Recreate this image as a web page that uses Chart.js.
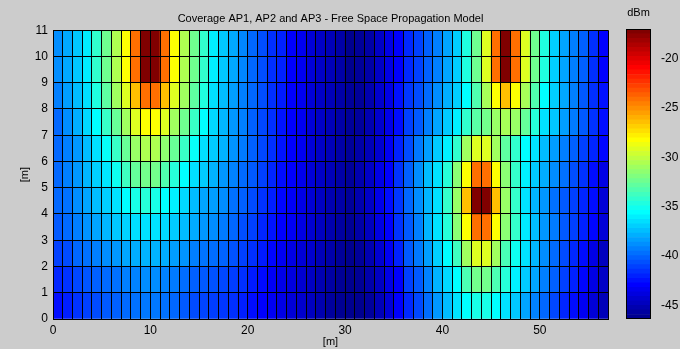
<!DOCTYPE html>
<html>
<head>
<meta charset="utf-8">
<title>Coverage AP1, AP2 and AP3</title>
<script src="https://cdn.jsdelivr.net/npm/chart.js@4.4.1/dist/chart.umd.min.js"></script>
<style>
  html, body { margin: 0; padding: 0; background: #cccccc; }
  #wrap { position: relative; width: 680px; height: 349px; }
  #wrap canvas { position: absolute; top: 0; }
  #coverage { left: 0; }
  #cbar { left: 600px; }
</style>
</head>
<body>
<div id="wrap">
  <canvas id="coverage" width="680" height="349"></canvas>
  <canvas id="cbar" width="80" height="349"></canvas>
</div>
<script>
// received power in dBm, one array per 1 m strip along y (row 0 = 0..1 m)
const dbmRow0 = [-42.6,-42.1,-41.5,-41.1,-40.8,-40.4,-40.2,-39.9,-39.7,-39.5,
  -39.5,-39.7,-40.0,-40.4,-40.8,-41.0,-41.2,-41.4,-41.6,-42.1,
  -42.6,-43.0,-43.3,-43.7,-44.1,-44.4,-44.8,-45.3,-45.8,-46.1,
  -46.4,-46.2,-45.8,-45.0,-44.1,-43.0,-41.8,-40.9,-39.8,-38.6,
  -37.5,-36.4,-35.6,-34.9,-34.9,-35.6,-36.4,-37.2,-38.2,-39.2,
  -40.0,-40.9,-41.9,-42.6,-43.3,-44.1,-45.0];
const dbmRow1 = [-41.9,-41.5,-40.9,-40.5,-40.2,-39.9,-39.7,-39.3,-39.2,-38.9,
  -38.9,-39.2,-39.4,-39.8,-40.2,-40.4,-40.6,-40.9,-41.2,-41.6,
  -42.2,-42.7,-43.2,-43.6,-43.9,-44.3,-44.7,-45.2,-45.6,-46.0,
  -46.3,-46.0,-45.4,-44.7,-43.7,-43.0,-41.1,-40.4,-39.2,-37.8,
  -36.7,-35.6,-33.4,-32.3,-32.3,-33.4,-34.5,-36.0,-37.1,-38.2,
  -39.3,-40.2,-41.1,-42.0,-42.8,-43.7,-44.6];
const dbmRow2 = [-41.1,-40.8,-40.0,-39.7,-39.3,-38.9,-38.6,-38.2,-38.0,-37.8,
  -37.8,-38.0,-38.4,-38.7,-39.3,-39.6,-39.8,-40.1,-40.6,-41.1,
  -41.6,-42.2,-42.8,-43.3,-43.7,-44.1,-44.4,-45.0,-45.4,-45.9,
  -46.2,-45.9,-45.2,-44.3,-43.3,-42.0,-40.4,-39.5,-38.4,-37.0,
  -35.6,-33.8,-31.0,-29.2,-29.2,-31.0,-33.5,-35.2,-36.4,-37.7,
  -38.9,-39.9,-40.8,-41.8,-42.6,-43.7,-44.8];
const dbmRow3 = [-40.4,-39.9,-39.3,-38.7,-38.2,-37.7,-37.2,-36.9,-36.5,-36.4,
  -36.4,-36.7,-37.1,-37.5,-38.0,-38.6,-38.9,-39.4,-40.0,-40.7,
  -41.1,-41.9,-42.4,-43.0,-43.3,-43.8,-44.3,-44.8,-45.3,-45.7,
  -46.0,-45.5,-44.8,-43.8,-43.0,-41.5,-40.4,-39.3,-37.7,-36.4,
  -34.5,-31.6,-28.3,-24.1,-24.1,-28.3,-31.6,-34.1,-36.2,-37.5,
  -38.6,-39.4,-40.4,-41.1,-42.0,-42.8,-44.1];
const dbmRow4 = [-40.0,-39.7,-38.9,-38.2,-37.5,-37.0,-36.4,-35.6,-34.9,-34.5,
  -34.9,-35.6,-36.0,-36.7,-37.5,-38.2,-38.4,-38.9,-39.7,-40.2,
  -40.8,-41.5,-42.1,-42.8,-43.2,-43.7,-44.2,-44.7,-45.2,-45.5,
  -45.9,-45.3,-44.6,-43.6,-42.6,-41.4,-40.0,-38.9,-37.7,-36.5,
  -34.1,-31.2,-26.4,-17.0,-17.0,-26.4,-31.2,-34.1,-36.4,-37.7,
  -38.6,-39.7,-40.4,-41.1,-41.9,-42.6,-44.1];
const dbmRow5 = [-40.0,-39.3,-38.6,-37.7,-37.0,-36.3,-35.2,-33.8,-32.7,-32.3,
  -32.3,-33.3,-34.5,-35.6,-36.5,-37.1,-37.8,-38.6,-39.2,-39.9,
  -40.4,-41.1,-41.9,-42.6,-43.0,-43.5,-44.1,-44.6,-45.0,-45.5,
  -45.9,-45.3,-44.6,-43.7,-43.0,-41.5,-40.2,-38.9,-37.5,-36.4,
  -34.5,-31.6,-28.3,-24.1,-24.1,-28.3,-31.6,-34.1,-36.0,-37.1,
  -38.0,-38.9,-39.7,-40.7,-41.5,-42.6,-43.7];
const dbmRow6 = [-40.0,-39.3,-38.6,-37.5,-36.5,-35.4,-34.0,-32.6,-31.2,-30.6,
  -30.6,-31.5,-32.6,-34.0,-35.4,-36.5,-37.1,-37.8,-38.7,-39.4,
  -40.2,-40.9,-41.6,-42.4,-43.0,-43.4,-44.1,-44.6,-45.0,-45.5,
  -45.9,-45.5,-45.0,-44.3,-43.3,-42.0,-40.8,-39.5,-38.4,-37.1,
  -36.0,-34.2,-31.0,-29.2,-29.2,-31.0,-32.9,-34.2,-35.6,-36.4,
  -37.5,-38.4,-39.3,-40.2,-41.1,-41.9,-42.8];
const dbmRow7 = [-40.0,-38.9,-37.9,-36.7,-35.6,-34.0,-32.6,-31.0,-29.2,-28.3,
  -28.3,-29.2,-31.0,-32.4,-34.0,-35.6,-36.7,-37.7,-38.6,-39.3,
  -40.2,-40.9,-41.6,-42.4,-43.0,-43.4,-44.1,-44.6,-45.0,-45.5,
  -45.9,-45.8,-45.2,-44.4,-43.6,-42.6,-41.1,-40.4,-39.3,-38.2,
  -37.1,-36.0,-34.2,-33.0,-32.3,-31.2,-30.8,-31.2,-32.7,-34.5,
  -36.4,-37.2,-38.4,-39.4,-40.4,-41.5,-42.6];
const dbmRow8 = [-39.3,-38.4,-37.5,-36.5,-34.7,-32.9,-31.0,-29.2,-26.4,-24.1,
  -24.1,-26.4,-29.2,-31.0,-32.9,-34.7,-36.5,-37.5,-38.4,-39.3,
  -40.0,-40.7,-41.6,-42.2,-43.0,-43.4,-44.1,-44.6,-45.0,-45.5,
  -45.9,-45.9,-45.3,-44.4,-43.7,-42.5,-41.4,-40.8,-39.9,-38.9,
  -37.9,-37.0,-35.6,-33.3,-30.8,-28.3,-26.4,-28.3,-30.8,-33.3,
  -35.6,-37.0,-38.1,-39.3,-40.4,-41.6,-42.5];
const dbmRow9 = [-38.9,-38.1,-37.2,-36.1,-34.2,-32.4,-30.6,-28.3,-24.1,-17.0,
  -17.0,-24.1,-28.3,-30.6,-32.4,-34.2,-36.1,-37.2,-38.1,-39.1,
  -40.0,-40.7,-41.6,-42.0,-43.0,-43.4,-44.1,-44.6,-45.0,-45.5,
  -46.2,-45.9,-45.5,-44.6,-43.7,-43.0,-41.8,-41.1,-40.2,-39.3,
  -38.2,-37.0,-34.7,-32.4,-29.2,-24.1,-17.0,-24.1,-29.2,-32.4,
  -34.7,-37.0,-38.2,-39.3,-40.2,-41.6,-43.0];
const dbmRow10 = [-38.9,-38.1,-37.2,-36.1,-34.2,-32.4,-30.6,-28.3,-24.1,-17.0,
  -17.0,-24.1,-28.3,-30.6,-32.4,-34.2,-36.1,-37.2,-38.1,-39.1,
  -40.0,-40.7,-41.6,-42.0,-43.0,-43.4,-44.1,-44.6,-45.0,-45.5,
  -46.2,-45.9,-45.5,-44.6,-43.7,-43.0,-41.8,-41.1,-40.2,-39.3,
  -38.2,-37.0,-34.7,-32.4,-29.2,-24.1,-17.0,-24.1,-29.2,-32.4,
  -34.7,-37.0,-38.2,-39.3,-40.2,-41.6,-43.0];

const xTickLabels = [0, 10, 20, 30, 40, 50];
const cbarTicks = [-45, -40, -35, -30, -25, -20];

const rowsDbm = [dbmRow0, dbmRow1, dbmRow2, dbmRow3, dbmRow4, dbmRow5,
  dbmRow6, dbmRow7, dbmRow8, dbmRow9, dbmRow10];

const CMIN = -46.4, CMAX = -17;
const WIDTH_M = 57, HEIGHT_M = 11;

// MATLAB style jet colormap
function jet(v) {
  let k = (v - CMIN) / (CMAX - CMIN) * 64 + 0.5;
  k = Math.min(64, Math.max(1, k));
  const clamp = t => Math.min(1, Math.max(0, t));
  const r = clamp(Math.min((k - 24) / 16, (72 - k) / 16));
  const g = clamp(Math.min((k - 8) / 16, (56 - k) / 16));
  const b = clamp(Math.min((k + 8) / 16, (40 - k) / 16));
  return `rgb(${Math.round(r * 255)},${Math.round(g * 255)},${Math.round(b * 255)})`;
}

Chart.defaults.font.family = '"Liberation Sans", Arial, sans-serif';
Chart.defaults.font.size = 11;
Chart.defaults.color = '#000';
Chart.defaults.animation = false;

// one floating bar per 1x1 m cell
const cells = [];
rowsDbm.forEach((row, r) => {
  row.forEach((v, c) => cells.push({ x: c + 0.5, y: [r, r + 1], v: v }));
});

new Chart(document.getElementById('coverage'), {
  type: 'bar',
  data: {
    datasets: [{
      data: cells,
      backgroundColor: cells.map(p => jet(p.v)),
      borderWidth: 0,
      barPercentage: 1,
      categoryPercentage: 1
    }]
  },
  options: {
    responsive: false,
    devicePixelRatio: 1,
    layout: { padding: { left: 0, right: 72, top: 0, bottom: 0 } },
    plugins: {
      legend: { display: false },
      tooltip: { enabled: false },
      title: {
        display: true,
        fullSize: false,
        text: 'Coverage AP1, AP2 and AP3 - Free Space Propagation Model',
        font: { size: 11, weight: 'normal' },
        color: '#000',
        padding: { top: 12, bottom: 5 }
      }
    },
    scales: {
      x: {
        type: 'linear',
        min: 0,
        max: WIDTH_M,
        offset: false,
        grid: { color: '#000', lineWidth: 1, drawTicks: false, offset: false, z: 1 },
        border: { color: '#000', z: 1 },
        ticks: {
          stepSize: 1,
          autoSkip: false,
          maxRotation: 0,
          padding: 4,
          font: { size: 12 },
          callback: v => xTickLabels.includes(v) ? String(v) : ''
        },
        title: { display: true, text: '[m]', font: { size: 11 }, padding: { top: 0, bottom: 0 } },
        afterFit: scale => { scale.height = 30; }
      },
      y: {
        type: 'linear',
        min: 0,
        max: HEIGHT_M,
        grid: { color: '#000', lineWidth: 1, drawTicks: false, z: 1 },
        border: { color: '#000', z: 1 },
        ticks: { stepSize: 1, autoSkip: false, padding: 5, font: { size: 12 } },
        title: { display: true, text: '[m]', font: { size: 11 }, padding: { top: 18, bottom: 0 } },
        afterFit: scale => { scale.width = 53; }
      }
    }
  }
});

// colour bar: 64 stacked bins of the jet map
const frame = {
  id: 'frame',
  afterDraw(chart) {
    const a = chart.chartArea;
    const ctx = chart.ctx;
    ctx.save();
    ctx.strokeStyle = '#000';
    ctx.lineWidth = 1;
    ctx.strokeRect(Math.round(a.left) + 0.5, Math.round(a.top) + 0.5,
      Math.round(a.right - a.left) - 1, Math.round(a.bottom - a.top) - 1);
    ctx.restore();
  }
};

const binSize = (CMAX - CMIN) / 64;
const cbarDatasets = [];
for (let i = 0; i < 64; i++) {
  const lo = CMIN + i * binSize;
  cbarDatasets.push({
    data: [[lo, lo + binSize]],
    backgroundColor: jet(lo + binSize / 2),
    borderWidth: 0,
    barPercentage: 1,
    categoryPercentage: 1,
    grouped: false
  });
}

new Chart(document.getElementById('cbar'), {
  type: 'bar',
  data: { labels: [''], datasets: cbarDatasets },
  options: {
    responsive: false,
    devicePixelRatio: 1,
    layout: { padding: { left: 26, right: 0, top: 0, bottom: 30 } },
    plugins: {
      legend: { display: false },
      tooltip: { enabled: false },
      title: {
        display: true,
        fullSize: false,
        text: 'dBm',
        font: { size: 11, weight: 'normal' },
        color: '#000',
        padding: { top: 6, bottom: 10 }
      }
    },
    scales: {
      x: { display: false },
      y: {
        position: 'right',
        min: CMIN,
        max: CMAX,
        grid: { display: false },
        border: { display: false },
        ticks: { padding: 2, font: { size: 12 } },
        afterBuildTicks: scale => { scale.ticks = cbarTicks.map(v => ({ value: v })); },
        afterFit: scale => { scale.width = 29; }
      }
    }
  },
  plugins: [frame]
});
</script>
</body>
</html>
